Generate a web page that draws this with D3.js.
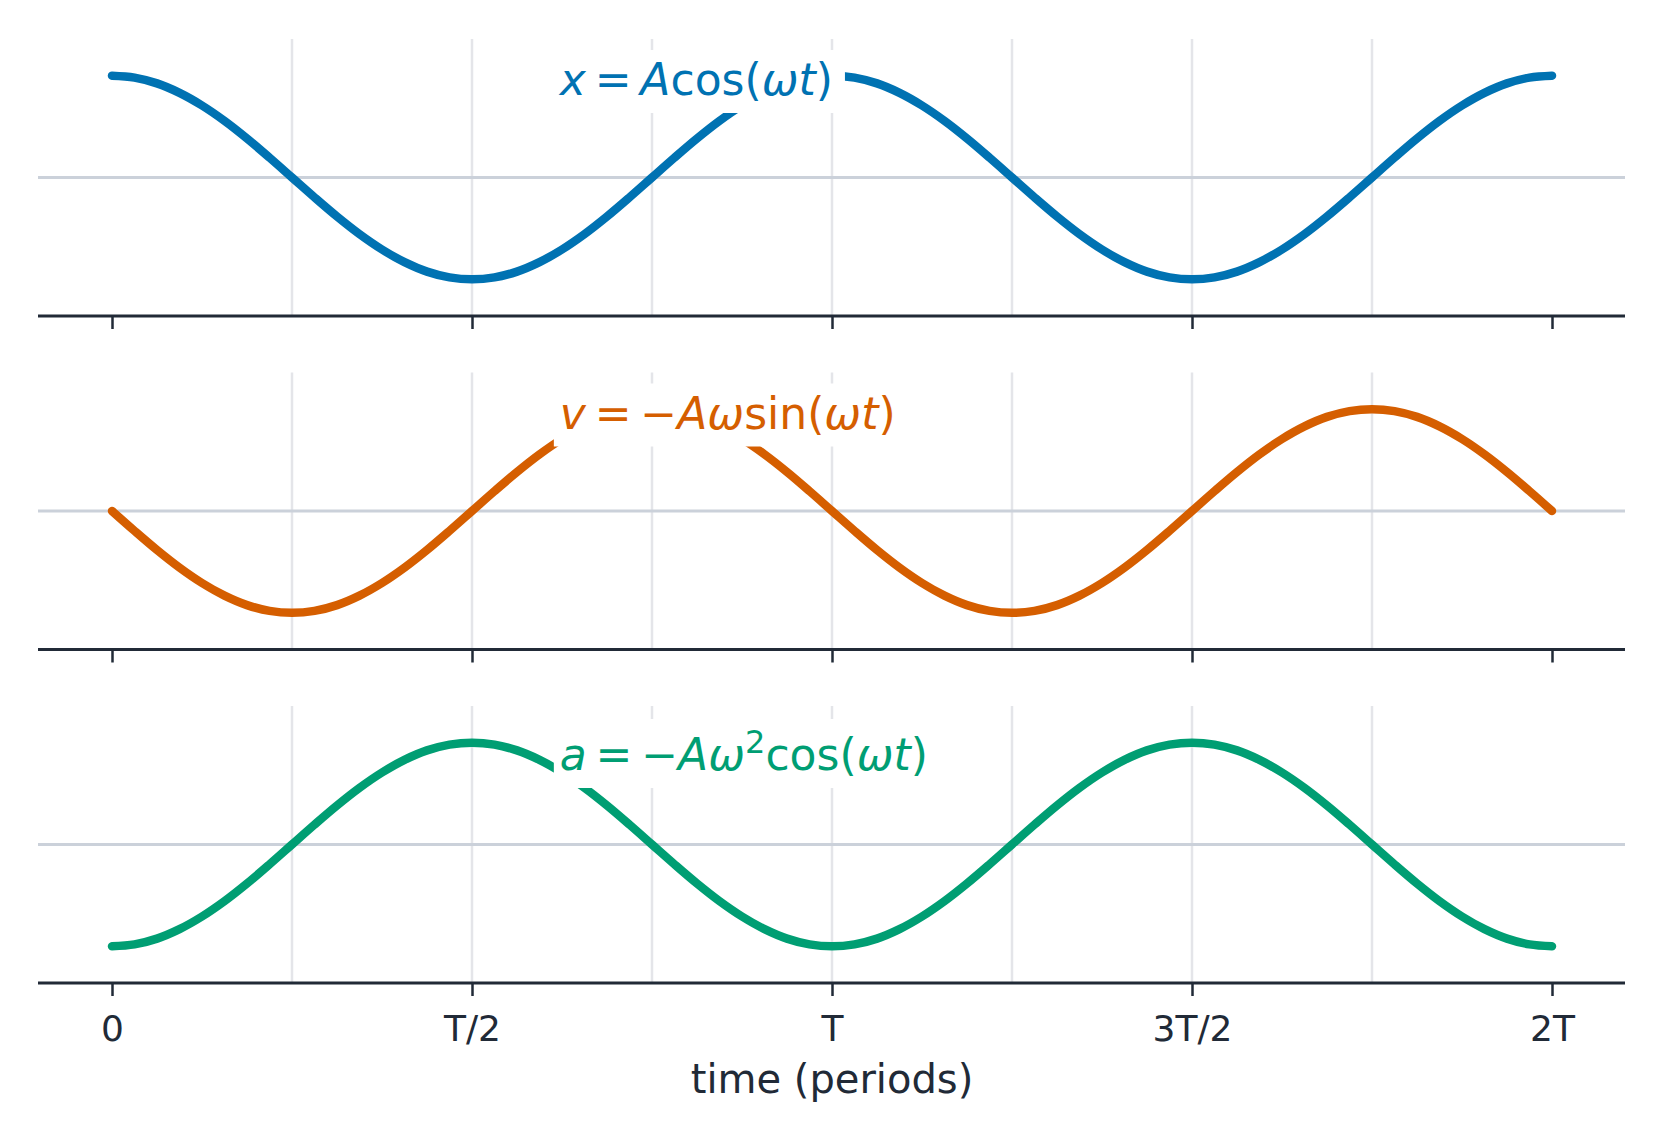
<!DOCTYPE html>
<html>
<head>
<meta charset="utf-8">
<script src="https://cdn.jsdelivr.net/npm/d3@7"></script>
<style>
    body { margin: 0; background: #ffffff; }
    svg { display: block; font-family: "DejaVu Sans", sans-serif; }
</style>
</head>
<body>
<svg id="drawing_region"></svg>
<script>
// time in periods, read every T/32
const timePoints = [0, 0.03125, 0.0625, 0.09375, 0.125, 0.15625, 0.1875, 0.21875,
    0.25, 0.28125, 0.3125, 0.34375, 0.375, 0.40625, 0.4375, 0.46875,
    0.5, 0.53125, 0.5625, 0.59375, 0.625, 0.65625, 0.6875, 0.71875,
    0.75, 0.78125, 0.8125, 0.84375, 0.875, 0.90625, 0.9375, 0.96875,
    1, 1.03125, 1.0625, 1.09375, 1.125, 1.15625, 1.1875, 1.21875,
    1.25, 1.28125, 1.3125, 1.34375, 1.375, 1.40625, 1.4375, 1.46875,
    1.5, 1.53125, 1.5625, 1.59375, 1.625, 1.65625, 1.6875, 1.71875,
    1.75, 1.78125, 1.8125, 1.84375, 1.875, 1.90625, 1.9375, 1.96875, 2];

const positionValues = [1, 0.981, 0.924, 0.831, 0.707, 0.556, 0.383, 0.195,
    0, -0.195, -0.383, -0.556, -0.707, -0.831, -0.924, -0.981,
    -1, -0.981, -0.924, -0.831, -0.707, -0.556, -0.383, -0.195,
    0, 0.195, 0.383, 0.556, 0.707, 0.831, 0.924, 0.981,
    1, 0.981, 0.924, 0.831, 0.707, 0.556, 0.383, 0.195,
    0, -0.195, -0.383, -0.556, -0.707, -0.831, -0.924, -0.981,
    -1, -0.981, -0.924, -0.831, -0.707, -0.556, -0.383, -0.195,
    0, 0.195, 0.383, 0.556, 0.707, 0.831, 0.924, 0.981, 1];

const velocityValues = [0, -0.195, -0.383, -0.556, -0.707, -0.831, -0.924, -0.981,
    -1, -0.981, -0.924, -0.831, -0.707, -0.556, -0.383, -0.195,
    0, 0.195, 0.383, 0.556, 0.707, 0.831, 0.924, 0.981,
    1, 0.981, 0.924, 0.831, 0.707, 0.556, 0.383, 0.195,
    0, -0.195, -0.383, -0.556, -0.707, -0.831, -0.924, -0.981,
    -1, -0.981, -0.924, -0.831, -0.707, -0.556, -0.383, -0.195,
    0, 0.195, 0.383, 0.556, 0.707, 0.831, 0.924, 0.981,
    1, 0.981, 0.924, 0.831, 0.707, 0.556, 0.383, 0.195, 0];

const accelerationValues = [-1, -0.981, -0.924, -0.831, -0.707, -0.556, -0.383, -0.195,
    0, 0.195, 0.383, 0.556, 0.707, 0.831, 0.924, 0.981,
    1, 0.981, 0.924, 0.831, 0.707, 0.556, 0.383, 0.195,
    0, -0.195, -0.383, -0.556, -0.707, -0.831, -0.924, -0.981,
    -1, -0.981, -0.924, -0.831, -0.707, -0.556, -0.383, -0.195,
    0, 0.195, 0.383, 0.556, 0.707, 0.831, 0.924, 0.981,
    1, 0.981, 0.924, 0.831, 0.707, 0.556, 0.383, 0.195,
    0, -0.195, -0.383, -0.556, -0.707, -0.831, -0.924, -0.981, -1];

const tickValues = [0, 0.5, 1, 1.5, 2];
const tickLabels = ["0", "T/2", "T", "3T/2", "2T"];
const gridValues = [0.25, 0.5, 0.75, 1, 1.25, 1.5, 1.75];

const seriesColors = ["#0072B2", "#D55E00", "#009E73"];

// label pieces: [text, italic?, superscript?]
const seriesLabels = [
    [["x", true], ["\u2009=\u2009", false], ["A", true], ["cos(", false], ["ωt", true], [")", false]],
    [["v", true], ["\u2009=\u2009−", false], ["Aω", true], ["sin(", false], ["ωt", true], [")", false]],
    [["a", true], ["\u2009=\u2009−", false], ["Aω", true], ["2", false, true], ["cos(", false], ["ωt", true], [")", false]]
];
const labelBaselines = [56, 56, 64];

class stackedWaves {
    constructor(config, series) {
        this.config = {
            parent: config.parent,
            width: config.width || 1665,
            height: config.height || 1143,
            left: config.left || 40,
            right: config.right || 1624,
            top: config.top || 39,
            panelHeight: config.panelHeight || 277,
            panelStep: config.panelStep || 333.5
        };
        this.series = series;
        this.init();
    }

    init() {
        let self = this;
        self.svg = d3.select(self.config.parent)
            .attr('width', self.config.width)
            .attr('height', self.config.height);

        self.xscale = d3.scaleLinear()
            .domain([-0.1, 2.1])
            .range([self.config.left, self.config.right]);

        self.yscale = d3.scaleLinear()
            .domain([-1.36, 1.36])
            .range([self.config.panelHeight, 0]);
    }

    render() {
        let self = this;
        let line = d3.line()
            .x(d => self.xscale(d.t))
            .y(d => self.yscale(d.v))
            .curve(d3.curveCatmullRom.alpha(0.5));

        self.series.forEach(function (s, i) {
            let top = self.config.top + i * self.config.panelStep;
            let g = self.svg.append('g')
                .attr('transform', `translate(0, ${top})`);

            // vertical grid
            g.selectAll('.grid')
                .data(gridValues)
                .enter().append('line')
                .attr('x1', d => self.xscale(d))
                .attr('x2', d => self.xscale(d))
                .attr('y1', 0)
                .attr('y2', self.config.panelHeight)
                .attr('stroke', '#e4e5e9')
                .attr('stroke-width', 2.5);

            // zero line
            g.append('line')
                .attr('x1', self.xscale.range()[0] - 2)
                .attr('x2', self.xscale.range()[1] + 1)
                .attr('y1', self.yscale(0))
                .attr('y2', self.yscale(0))
                .attr('stroke', '#cbd1da')
                .attr('stroke-width', 3);

            g.append('path')
                .datum(timePoints.map((t, k) => ({ t: t, v: s.values[k] })))
                .attr('d', line)
                .attr('fill', 'none')
                .attr('stroke', s.color)
                .attr('stroke-width', 8.5)
                .attr('stroke-linecap', 'round')
                .attr('stroke-linejoin', 'round');

            // bottom axis
            let axis = d3.axisBottom(self.xscale)
                .tickValues(tickValues)
                .tickSize(13)
                .tickSizeOuter(0)
                .tickPadding(19)
                .tickFormat((d, k) => i === self.series.length - 1 ? tickLabels[k] : '');
            let ag = g.append('g')
                .attr('transform', `translate(0, ${self.config.panelHeight})`)
                .call(axis);
            ag.select('.domain')
                .attr('d', `M${self.xscale.range()[0] - 2},0H${self.xscale.range()[1] + 1}`)
                .attr('stroke', '#212a37')
                .attr('stroke-width', 3);
            ag.selectAll('.tick line')
                .attr('stroke', '#212a37')
                .attr('stroke-width', 2.5);
            ag.selectAll('.tick text')
                .attr('fill', '#212a37')
                .style('font-size', '36px')
                .style('font-family', '"DejaVu Sans", sans-serif');

            // label with white box
            let boxg = g.append('g');
            let label = boxg.append('text')
                .attr('x', self.xscale(0.622))
                .attr('y', labelBaselines[i])
                .attr('fill', s.color)
                .style('font-size', '44px')
                .style('white-space', 'pre');
            let raised = false;
            s.label.forEach(function (p) {
                let ts = label.append('tspan')
                    .style('font-style', p[1] ? 'italic' : 'normal')
                    .text(p[0]);
                if (p[2]) {
                    ts.style('font-size', '32px').attr('dy', -17);
                    raised = true;
                } else if (raised) {
                    ts.attr('dy', 17);
                    raised = false;
                }
            });
            let bb = label.node().getBBox();
            boxg.insert('rect', 'text')
                .attr('x', bb.x - 6)
                .attr('y', bb.y - 4)
                .attr('width', bb.width + 18)
                .attr('height', bb.height + 12)
                .attr('fill', '#ffffff');
        });

        self.svg.append('text')
            .attr('x', self.xscale(1))
            .attr('y', 1093)
            .attr('text-anchor', 'middle')
            .attr('fill', '#212a37')
            .style('font-size', '40px')
            .text('time (periods)');
    }
}

const series = [
    { values: positionValues, color: seriesColors[0], label: seriesLabels[0] },
    { values: velocityValues, color: seriesColors[1], label: seriesLabels[1] },
    { values: accelerationValues, color: seriesColors[2], label: seriesLabels[2] }
];

const chart = new stackedWaves({ parent: '#drawing_region' }, series);
chart.render();
</script>
</body>
</html>
